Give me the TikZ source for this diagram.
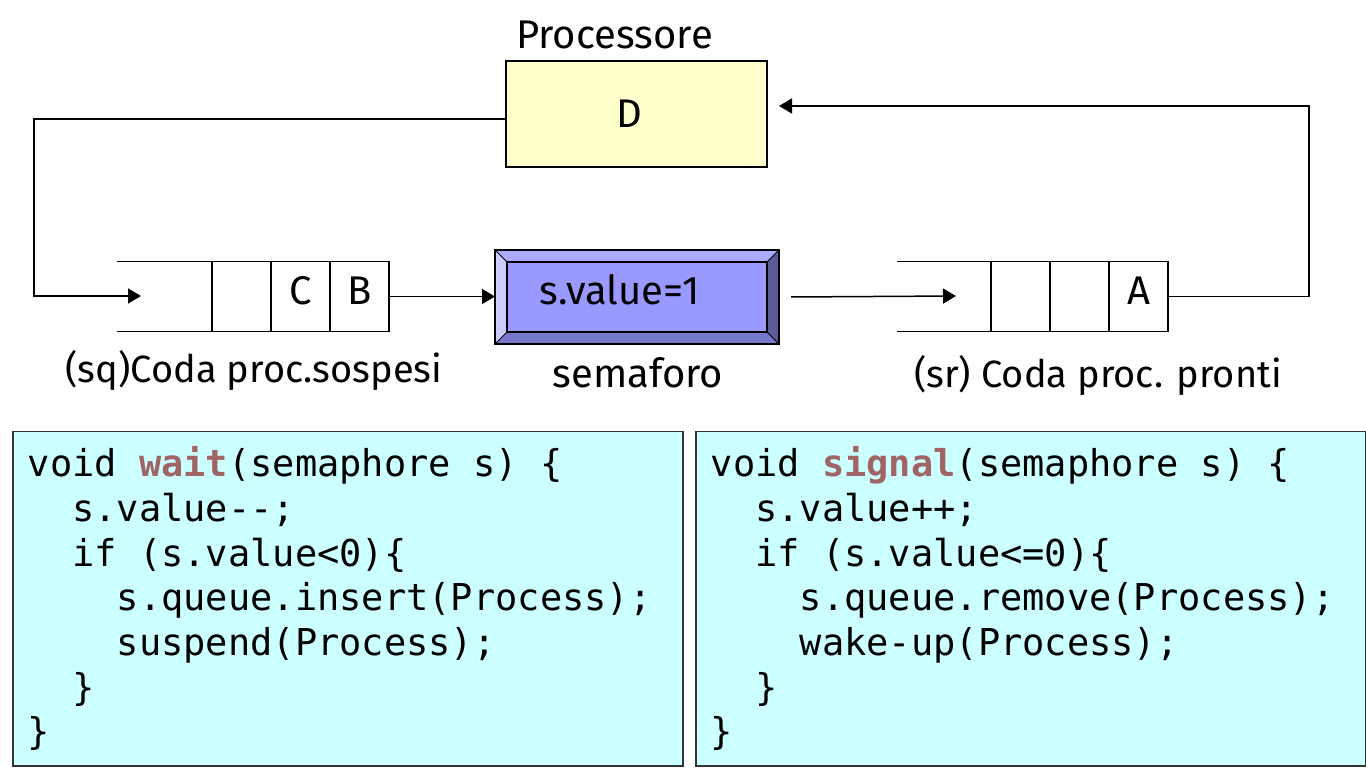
\documentclass[tikz,border=0pt]{standalone}
\usepackage{fontspec}
\setmainfont{Fira Sans}
\newfontfamily\codefont{DejaVu Sans Mono}
\usetikzlibrary{arrows.meta,positioning}
\definecolor{procfill}{HTML}{FFFFCC}
\definecolor{codefill}{HTML}{CCFFFF}
\definecolor{semfill}{HTML}{9999FF}
\definecolor{semtop}{HTML}{AAAAFF}
\definecolor{semleft}{HTML}{CCCCFF}
\definecolor{sembot}{HTML}{7777CC}
\definecolor{semright}{HTML}{5C5C99}
\definecolor{fname}{RGB}{160,100,100}
\tikzset{
  lbl/.style={inner sep=0pt, font=\fontsize{40}{48}\selectfont},
  qlbl/.style={inner sep=0pt, anchor=base, font=\fontsize{38}{46}\selectfont},
  cell/.style={draw, lbl, outer sep=0pt, minimum width=59pt, minimum height=70pt, text height=28pt, text depth=12pt},
  arr/.style={-{Triangle[length=13pt,width=15pt]}},
  codebox/.style={draw=black!80, fill=codefill, minimum height=334pt, text width=640pt,
    inner xsep=15pt, align=left, anchor=north west,
    font=\codefont\fontsize{37}{44.7}\selectfont,
    execute at begin node={\spaceskip=0.602em\relax}},
}
\begin{document}
\begin{tikzpicture}[x=1pt,y=-1pt,line width=1.5pt,node distance=0pt]
\useasboundingbox (0,0) rectangle (1366,775);

% processore
\node[cell, fill=procfill, minimum width=261pt, minimum height=106pt, text depth=0pt] (proc) at (636.5,114) {D\hspace*{14pt}};
\node[lbl, above=11pt of proc, xshift=-22pt] (proclbl) {Processore};

% coda dei sospesi
\node[cell] (sq1) at (241.5,296.5) {};
\node[cell, right=of sq1] (sq2) {C};
\node[cell, right=of sq2] (sq3) {B};
\draw (sq1.north west) -- ++(-95,0);
\draw (sq1.south west) -- ++(-95,0);
\node[qlbl] (sqlbl) at (254,383) {(sq)Coda proc.sospesi};

% semaforo
\node[cell, fill=semfill, minimum width=260pt] (sem) at (637,297) {s.value=1\hspace*{34pt}};
\coordinate (snw) at ([shift={(-12,-12)}]sem.north west);
\coordinate (sne) at ([shift={(12,-12)}]sem.north east);
\coordinate (sse) at ([shift={(12,12)}]sem.south east);
\coordinate (ssw) at ([shift={(-12,12)}]sem.south west);
\fill[semtop] (snw) -- (sne) -- (sem.north east) -- (sem.north west) -- cycle;
\fill[semright] (sne) -- (sse) -- (sem.south east) -- (sem.north east) -- cycle;
\fill[sembot] (sse) -- (ssw) -- (sem.south west) -- (sem.south east) -- cycle;
\fill[semleft] (ssw) -- (snw) -- (sem.north west) -- (sem.south west) -- cycle;
\draw (snw) rectangle (sse);
\draw (sem.north west) rectangle (sem.south east);
\draw[line width=1pt] (snw) -- (sem.north west) (sne) -- (sem.north east)
  (sse) -- (sem.south east) (ssw) -- (sem.south west);
\node[lbl, anchor=base] (semlbl) at (638,388) {semaforo};

% coda dei pronti
\node[cell] (sr1) at (1020.5,296.5) {};
\node[cell, right=of sr1] (sr2) {};
\node[cell, right=of sr2] (sr3) {A};
\draw (sr1.north west) -- ++(-94,0);
\draw (sr1.south west) -- ++(-94,0);
\node[qlbl] (srlbl) at (1098,388) {(sr) Coda proc. pronti};

% collegamenti
\coordinate (lt) at (34,119);
\coordinate (lb) at (34,296);
\coordinate (sqin) at (141,296);
\coordinate (srin) at (956,296);
\coordinate (rt) at (1309,106);
\draw[arr] (proc.west |- lt) -- (lt) -- (lb) -- (sqin);
\draw[arr] (sq3.east) -- (ssw |- sq3.east);
\draw[arr] ([xshift=24pt]sem.east) -- (srin);
\draw[arr] (sr3.east) -- (sr3.east -| rt) -- (rt) -- ([xshift=12pt]proc.east |- rt);

% codice
\node[codebox] (waitcode) at (12,431) {void \textbf{\color{fname}wait}(semaphore s) \{\\
\phantom{xx}s.value-{}-;\\
\phantom{xx}if (s.value<0)\{\\
\phantom{xxxx}s.queue.insert(Process);\\
\phantom{xxxx}suspend(Process);\\
\phantom{xx}\}\\
\}};
\node[codebox] (signalcode) at (695,431) {void \textbf{\color{fname}signal}(semaphore s) \{\\
\phantom{xx}s.value++;\\
\phantom{xx}if (s.value<=0)\{\\
\phantom{xxxx}s.queue.remove(Process);\\
\phantom{xxxx}wake-up(Process);\\
\phantom{xx}\}\\
\}};
\end{tikzpicture}
\end{document}
